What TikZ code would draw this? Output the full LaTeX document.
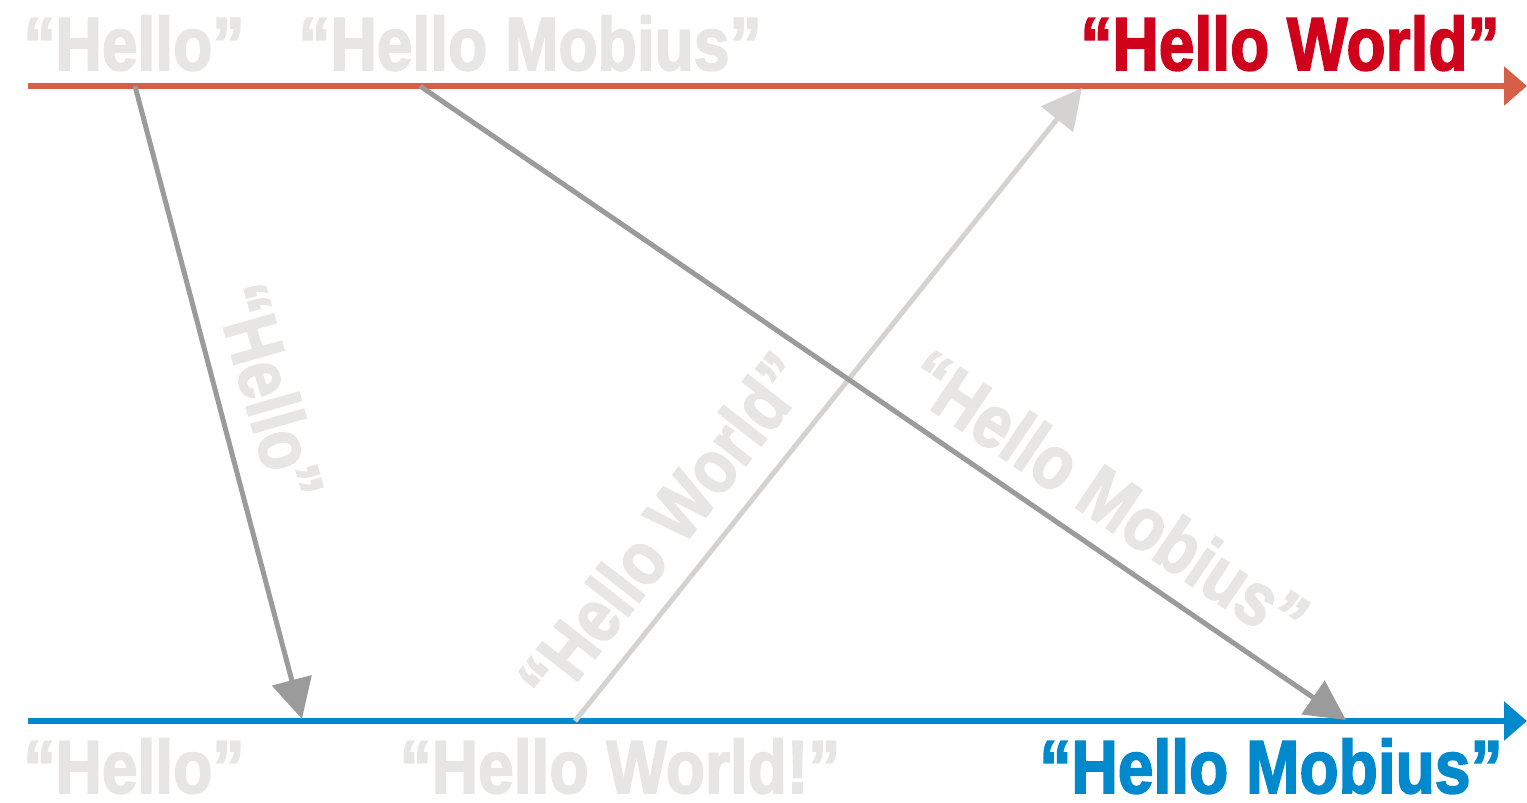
\documentclass[tikz,border=0pt]{standalone}
\usepackage{fontspec}
\usepackage{graphicx}
\setmainfont{Liberation Sans}[BoldFeatures={FakeBold=2.5}]
\usetikzlibrary{arrows.meta}
\definecolor{redline}{HTML}{D65F48}
\definecolor{redtext}{HTML}{D0021B}
\definecolor{blueline}{HTML}{0089CC}
\definecolor{darkarrow}{HTML}{9B9B9B}
\definecolor{lightarrow}{HTML}{D5D3D2}
\definecolor{ghost}{HTML}{E7E6E5}
\newcommand{\cond}[1]{\scalebox{0.855}[1]{#1}}
\tikzset{
  lbl/.style={inner sep=0pt, anchor=base, font=\fontsize{75}{75}\selectfont\bfseries},
  rlbl/.style={inner sep=0pt, anchor=center, text=ghost, font=\fontsize{75}{75}\selectfont\bfseries},
  timeline/.style={line width=6pt, -{Triangle[width=38pt,length=23pt]}},
  msg/.style={line width=5pt, -{Triangle[width=40pt,length=40pt]}}
}
\begin{document}
\begin{tikzpicture}[x=1pt,y=-1pt]
\useasboundingbox (0,0) rectangle (1527,803);
% coordinates
\coordinate (tl) at (28,86);
\coordinate (tr) at (1527,86);
\coordinate (bl) at (28,721);
\coordinate (br) at (1527,721);
\coordinate (a1s) at (135,86);
\coordinate (a1e) at (302,719);
\coordinate (a2s) at (420,86);
\coordinate (a2e) at (1346,720);
\coordinate (a3s) at (575,721);
\coordinate (a3e) at (1082,88);
% labels
\node[lbl, text=ghost] (t1) at (134,70) {\cond{“Hello”}};
\node[lbl, text=ghost] (t2) at (530,70) {\cond{“Hello Mobius”}};
\node[lbl, text=redtext] (t3) at (1290,70) {\cond{“Hello World”}};
\node[lbl, text=ghost] (b1) at (134,793) {\cond{“Hello”}};
\node[lbl, text=ghost] (b2) at (620,793) {\cond{“Hello World!”}};
\node[lbl, text=blueline] (b3) at (1271,793) {\cond{“Hello Mobius”}};
\node[rlbl, rotate=-74] (r1) at (270,392) {\cond{“Hello”}};
\node[rlbl, rotate=52] (r2) at (663,528) {\cond{“Hello World”}};
\node[rlbl, rotate=-34] (r3) at (1108,497) {\cond{“Hello Mobius”}};
% timelines
\draw[timeline, redline] (tl) -- (tr);
\draw[timeline, blueline] (bl) -- (br);
% messages
\draw[msg, lightarrow] (a3s) -- (a3e);
\draw[msg, darkarrow] (a1s) -- (a1e);
\draw[msg, darkarrow] (a2s) -- (a2e);
\end{tikzpicture}
\end{document}
